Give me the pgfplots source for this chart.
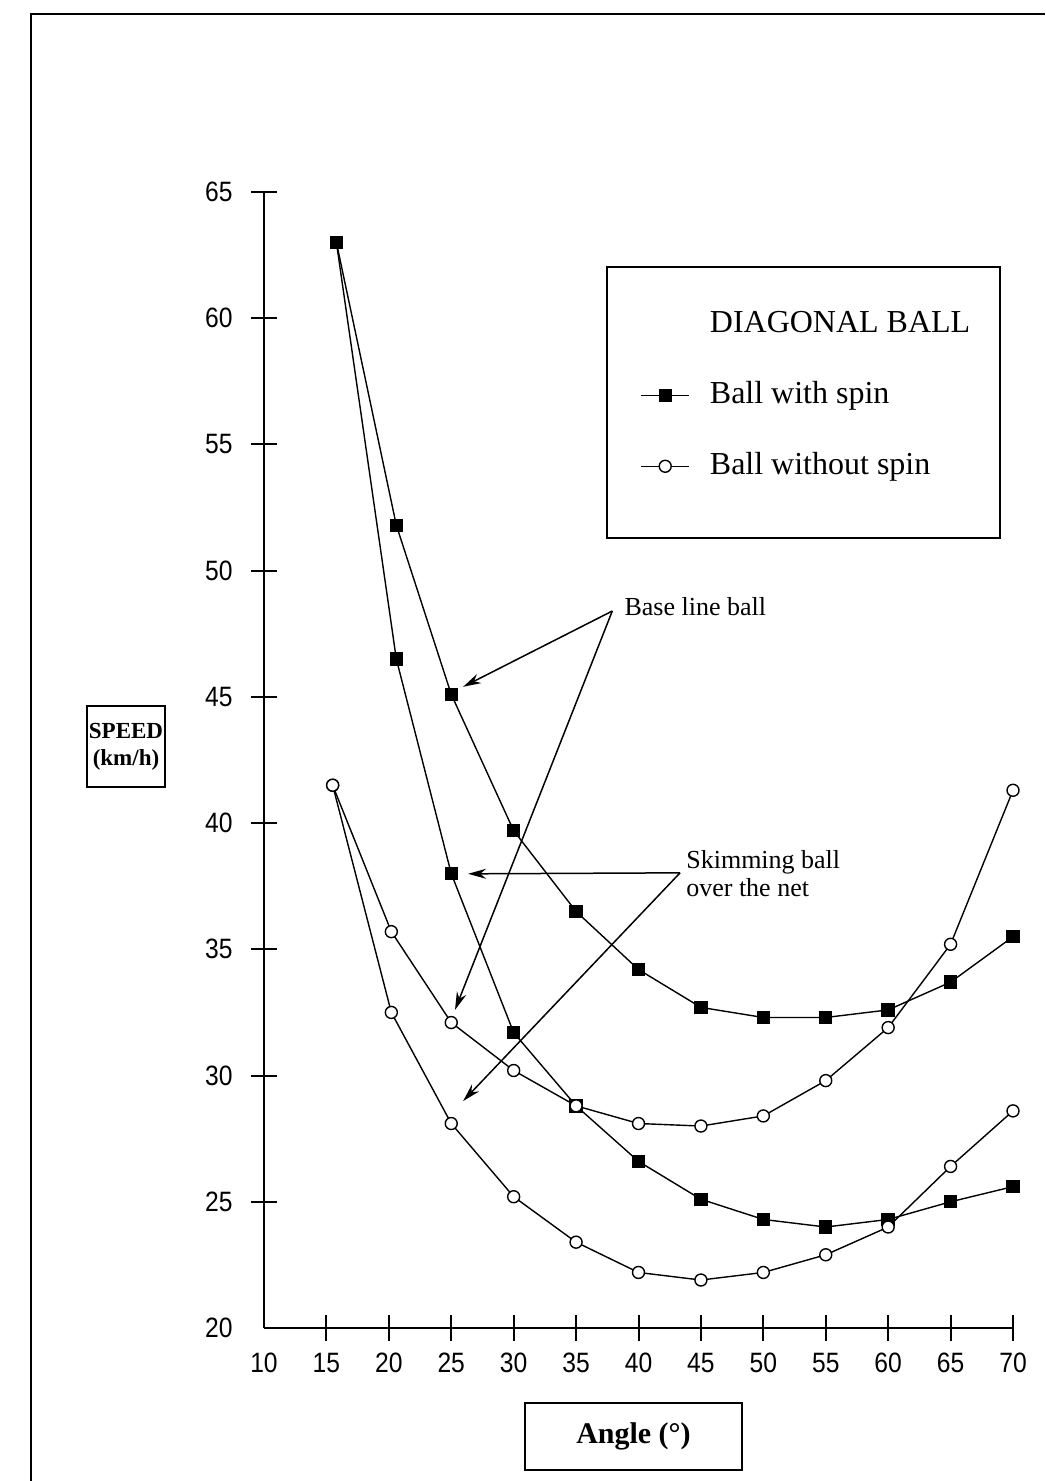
\documentclass[border=0pt]{standalone}
\usepackage{fontspec}
\setmainfont{Liberation Serif}
\newfontfamily\ticksfont[FakeStretch=0.88]{Liberation Sans}
\usepackage{pgfplots}
\usepackage{pgfplotstable}
\pgfplotsset{compat=1.18}
\usetikzlibrary{arrows.meta}

\pgfplotstableread{
x y
15.8 63.0
20.6 51.8
25.0 45.1
30.0 39.7
35.0 36.5
40.0 34.2
45.0 32.7
50.0 32.3
55.0 32.3
60.0 32.6
65.0 33.7
70.0 35.5
}\basespin

\pgfplotstableread{
x y
15.8 63.0
20.6 46.5
25.0 38.0
30.0 31.7
35.0 28.8
40.0 26.6
45.0 25.1
50.0 24.3
55.0 24.0
60.0 24.3
65.0 25.0
70.0 25.6
}\skimspin

\pgfplotstableread{
x y
15.5 41.5
20.2 35.7
25.0 32.1
30.0 30.2
35.0 28.8
40.0 28.1
45.0 28.0
50.0 28.4
55.0 29.8
60.0 31.9
65.0 35.2
70.0 41.3
}\basenospin

\pgfplotstableread{
x y
15.5 41.5
20.2 32.5
25.0 28.1
30.0 25.2
35.0 23.4
40.0 22.2
45.0 21.9
50.0 22.2
55.0 22.9
60.0 24.0
65.0 26.4
70.0 28.6
}\skimnospin

\begin{document}
\begin{tikzpicture}[x=1pt,y=1pt]
\useasboundingbox (-132,-76.5) rectangle (390.5,664);
\draw[line width=0.8pt] (-116.5,-76.5) -- (-116.5,657) -- (390.5,657);
\begin{axis}[
  at={(0,0)}, anchor=south west,
  scale only axis, width=374.5pt, height=568pt,
  xmin=10, xmax=70, ymin=20, ymax=65,
  axis lines*=left,
  axis line style={line width=1.3pt},
  xtick={15,20,...,70}, ytick={25,30,...,65},
  extra x ticks={10}, extra y ticks={20},
  extra tick style={tick style={draw=none}},
  tick align=center, major tick length=13pt,
  tick style={line width=1pt, black},
  /pgf/number format/assume math mode=true,
  tick label style={font=\ticksfont\fontsize{14}{16}\selectfont},
  xticklabel style={anchor=north, inner sep=0pt, yshift=-6pt},
  yticklabel style={anchor=east, inner sep=0pt, xshift=-9pt},
  clip=false,
  legend style={at={(axis cs:40.13,60.37)}, anchor=north west, draw=none, fill=none,
    inner sep=0pt, font=\fontsize{16}{18}\selectfont, row sep=20.5pt, column sep=10pt,
    nodes={inner sep=0pt, anchor=west, text height=11.5pt, text depth=3.5pt}},
  legend cell align=left,
  legend image code/.code={\draw[mark repeat=2,mark phase=2,#1] plot coordinates {(0pt,0pt) (12pt,0pt) (24pt,0pt)};},
]
\addplot[black, line width=0.7pt, mark=square*, mark size=3pt, mark options={fill=black, solid}, forget plot] table {\basespin};
\addplot[black, line width=0.7pt, mark=square*, mark size=3pt, mark options={fill=black, solid}, forget plot] table {\skimspin};
\addplot[black, line width=0.7pt, mark=*, mark size=3pt, mark options={fill=white, draw=black, solid}, forget plot] table {\basenospin};
\addplot[black, line width=0.7pt, mark=*, mark size=3pt, mark options={fill=white, draw=black, solid}, forget plot] table {\skimnospin};

\addlegendimage{empty legend}
\addlegendentry{DIAGONAL BALL}
\addlegendimage{black, line width=0.7pt, mark=square*, mark size=3pt, mark options={fill=black}}
\addlegendentry{Ball with spin}
\addlegendimage{black, line width=0.7pt, mark=*, mark size=3pt, mark options={fill=white, draw=black}}
\addlegendentry{Ball without spin}

\draw[line width=1pt] (axis cs:37.48,62.04) rectangle (axis cs:68.97,51.30);

\node[anchor=west, font=\fontsize{13}{15}\selectfont, inner sep=0pt] at (axis cs:38.85,48.57) {Base line ball};
\draw[-{Stealth[length=9pt,width=5pt]}, line width=0.75pt] (axis cs:37.9,48.4) -- (axis cs:25.95,45.4);
\draw[-{Stealth[length=9pt,width=5pt]}, line width=0.75pt] (axis cs:37.9,48.4) -- (axis cs:25.3,32.6);

\node[anchor=west, align=left, font=\fontsize{13}{14}\selectfont, inner sep=0pt] at (axis cs:43.8,38.0) {Skimming ball\\over the net};
\draw[-{Stealth[length=9pt,width=5pt]}, line width=0.75pt] (axis cs:43.33,38.03) -- (axis cs:26.35,37.99);
\draw[-{Stealth[length=9pt,width=5pt]}, line width=0.75pt] (axis cs:43.33,38.03) -- (axis cs:25.95,28.99);
\end{axis}
\node[draw, line width=0.8pt, font=\bfseries\fontsize{11.5}{13.5}\selectfont, align=center, inner sep=1pt, minimum width=34pt, minimum height=40.5pt] at (-69,290.75) {SPEED\\(km/h)};
\node[draw, line width=0.8pt, font=\bfseries\fontsize{15}{17}\selectfont, minimum width=108.5pt, minimum height=33.5pt] at (184.75,-54.25) {Angle (°)};
\end{tikzpicture}
\end{document}
